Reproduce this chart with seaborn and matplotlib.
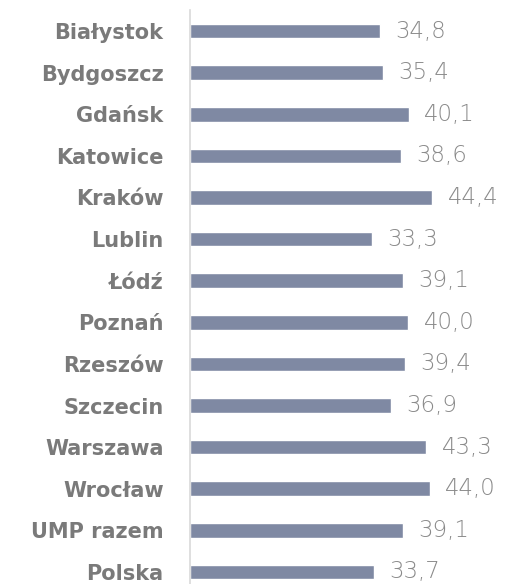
import matplotlib
matplotlib.use('Agg')
import pandas as pd
import seaborn as sns
import matplotlib.pyplot as plt

# Data
cities = ['Białystok', 'Bydgoszcz', 'Gdańsk', 'Katowice', 'Kraków', 'Lublin', 'Łódź',
          'Poznań', 'Rzeszów', 'Szczecin', 'Warszawa', 'Wrocław', 'UMP razem', 'Polska']
values = [34.8, 35.4, 40.1, 38.6, 44.4, 33.3, 39.1, 40.0, 39.4, 36.9, 43.3, 44.0, 39.1, 33.7]

df = pd.DataFrame({'city': cities, 'value': values})

sns.set_style('white')
plt.rcParams['font.family'] = ['DejaVu Sans']

fig = plt.figure(figsize=(5.06, 5.84), dpi=100)
ax = fig.add_axes([190 / 506, 0, 1 - 190 / 506, 1])

sns.barplot(data=df, x='value', y='city', color='#7f89a3', width=0.35,
            saturation=1, ax=ax)

# value labels with decimal comma
for i, v in enumerate(values):
    ax.annotate(f'{v:.1f}'.replace('.', ','), (v, i), xytext=(11, 0),
                textcoords='offset points', va='center', ha='left',
                fontsize=16.5, color='#8a8a8a', fontweight='light')

ax.set_xlim(0, 318 / 5.49)
ax.set_ylim(13 + 12 / 41.6, -31 / 41.6)
ax.set_xlabel('')
ax.set_ylabel('')
ax.set_xticks([])

for s in ['top', 'right', 'bottom']:
    ax.spines[s].set_visible(False)
ax.spines['left'].set_color('#d9d9d9')
ax.spines['left'].set_linewidth(1.2)
ax.spines['left'].set_bounds(-0.5, 13.5)

ax.tick_params(axis='y', length=0, pad=19)
for lbl in ax.get_yticklabels():
    lbl.set_fontsize(15)
    lbl.set_fontweight('bold')
    lbl.set_color('#7a7a7a')

fig.savefig('out.png', dpi=100)
